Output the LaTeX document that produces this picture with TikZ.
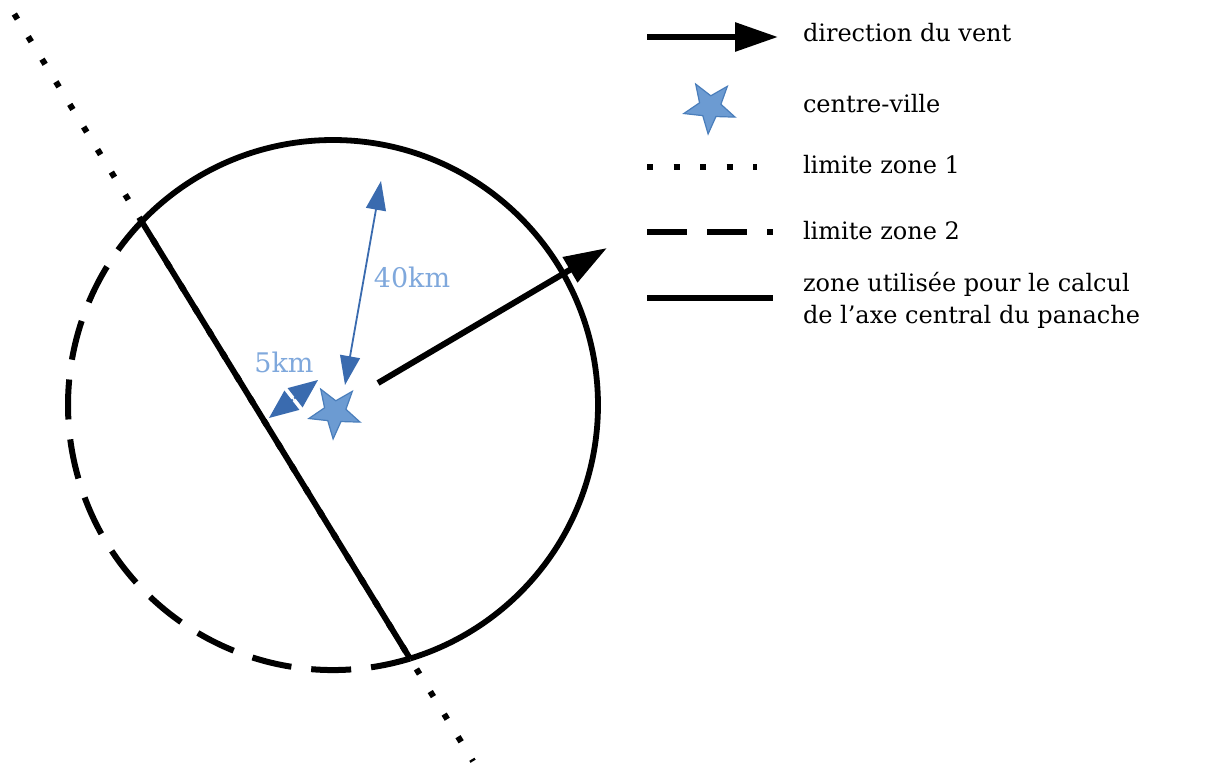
\documentclass[tikz,border=0pt]{standalone}
\usepackage{fontspec}
\setmainfont{DejaVu Serif}
\usetikzlibrary{arrows.meta,shapes.geometric,calc}
\definecolor{starfill}{HTML}{6C9BD2}
\definecolor{stardraw}{HTML}{4A7EBB}
\definecolor{dimblue}{HTML}{3A6BAF}
\definecolor{labelblue}{HTML}{7FA8DC}
\begin{document}
\begin{tikzpicture}[x=0.5pt,y=-0.5pt,
  thickline/.style={line width=2.9pt},
  windarrow/.style={line width=3pt,-{Triangle[length=21.5pt,width=14pt]}},
  zoneone/.style={line width=3pt, dash pattern=on 3pt off 10.25pt},
  zonetwo/.style={line width=3pt, dash pattern=on 20pt off 10pt},
  citystar/.style={star, star points=5, star point ratio=2.4, minimum size=27pt, inner sep=0pt, fill=starfill, draw=stardraw, line width=0.6pt, shape border rotate=176},
  legendtext/.style={anchor=base west, inner sep=0pt, outer sep=0pt, font=\fontsize{12}{16.5}\selectfont, align=left},
  dimarrow/.style={draw=dimblue, line width=0.9pt, {Triangle[length=14.5pt,width=10pt]}-{Triangle[length=14.5pt,width=10pt]}},
  dimlabel/.style={text=labelblue, font=\fontsize{13.5}{16}\selectfont, inner sep=0pt}
]
\useasboundingbox (0,0) rectangle (1207,765);

% circle geometry
\coordinate (O) at (333,405);
\coordinate (A) at ($(O)+(-136.2:265)$);
\coordinate (B) at ($(O)+(73.1:265)$);
\coordinate (D1) at ($(A)!-0.475!(B)$);
\coordinate (D2) at ($(B)!-0.235!(A)$);

% zone 1 limit (dotted)
\draw[zoneone] (D1) -- (D2);
% zone 2 limit (dashed arc)
\draw[zonetwo] (B) arc[start angle=73.1, end angle=223.8, radius=265];
% used zone (solid arc + chord)
\draw[thickline] (A) arc[start angle=-136.2, end angle=73.1, radius=265];
\draw[thickline] (A) -- (B);

% wind direction
\coordinate (W1) at (378,383);
\coordinate (W2) at (607,248);
\draw[windarrow] (W1) -- (W2);

% city centre
\node[citystar] (city) at (335,412) {};

% 40 km
\coordinate (G1) at (345,385);
\coordinate (G2) at (381,181);
\draw[dimarrow] (G1) -- (G2);
\node[dimlabel] (l40) at (412,277) {40km};

% 5 km
\coordinate (F1) at (269,418);
\coordinate (F2) at (318,380);
\draw[dimarrow, {Triangle[length=14.5pt,width=12pt]}-{Triangle[length=14.5pt,width=12pt]}] (F1) -- (F2);
\coordinate (M) at ($(F1)!0.5!(F2)$);
\draw[white, line width=0.8pt] ($(M)!7pt!90:(F2)$) -- ($(M)!7pt!-90:(F2)$);
\node[dimlabel] (l5) at (284,362) {5km};

% legend
\coordinate (La1) at (647,37);  \coordinate (La2) at (778,37);
\draw[windarrow] (La1) -- (La2);
\node[legendtext] (t1) at (803,42) {direction du vent};

\node[citystar] (lstar) at (710,107) {};
\node[legendtext] (t2) at (803,113) {centre-ville};

\coordinate (Lc1) at (647,167); \coordinate (Lc2) at (757,167);
\draw[zoneone] (Lc1) -- (Lc2);
\node[legendtext] (t3) at (803,174) {limite zone 1};

\coordinate (Ld1) at (647,232); \coordinate (Ld2) at (773,232);
\draw[zonetwo] (Ld1) -- (Ld2);
\node[legendtext] (t4) at (803,240) {limite zone 2};

\coordinate (Le1) at (647,298); \coordinate (Le2) at (773,298);
\draw[thickline] (Le1) -- (Le2);
\node[legendtext] (t5) at (803,324) {zone utilisée pour le calcul\\de l’axe central du panache};
\end{tikzpicture}
\end{document}
